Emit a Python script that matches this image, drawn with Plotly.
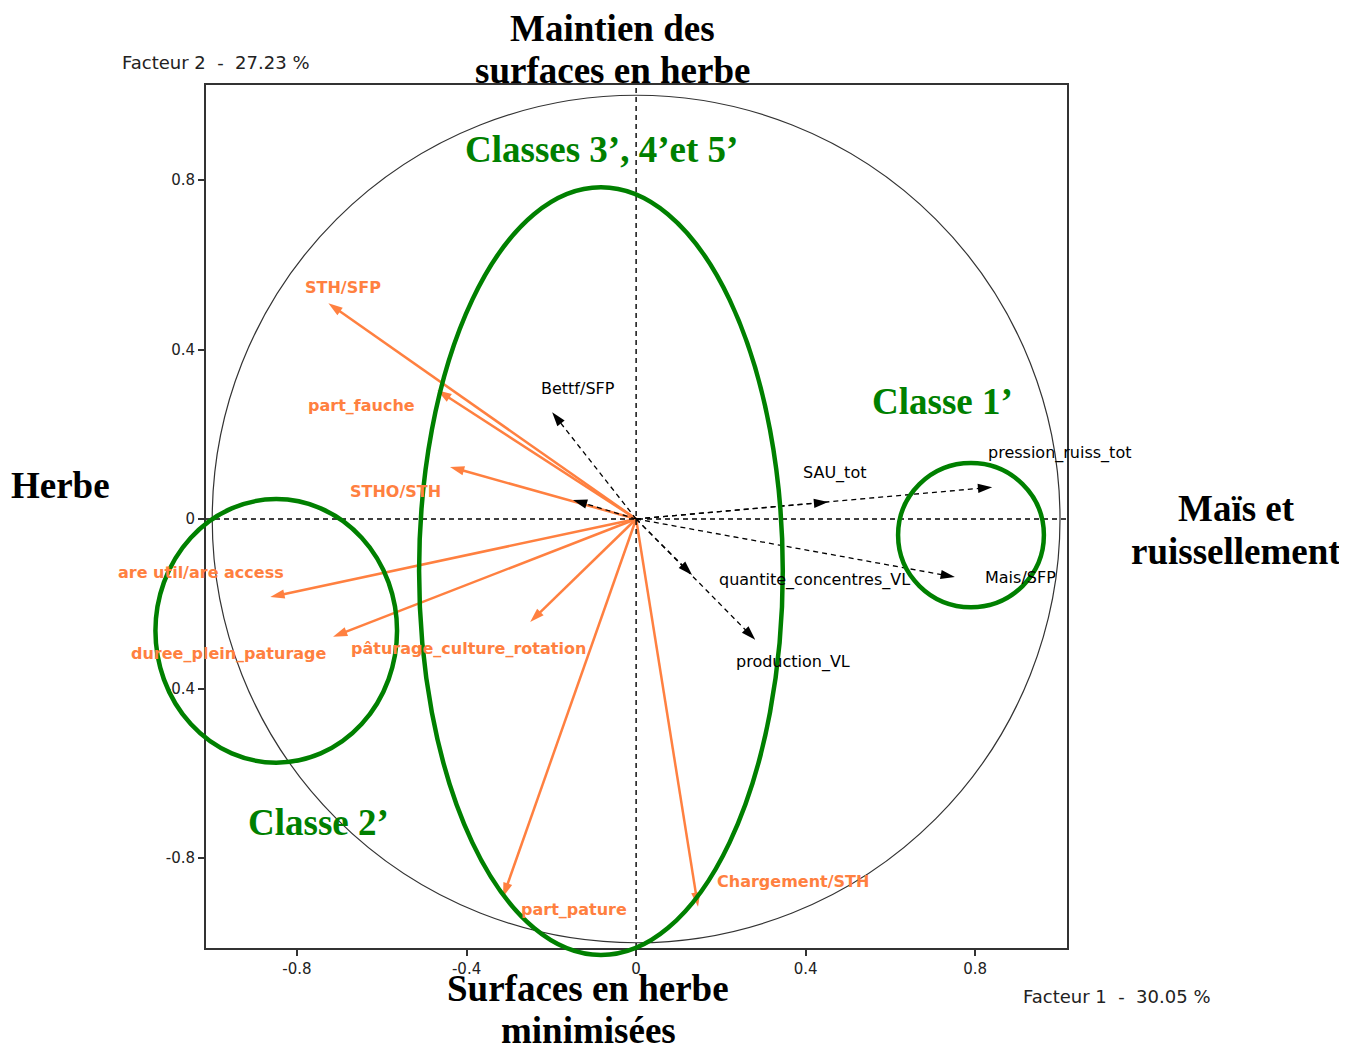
import plotly.graph_objects as go

# ---------------- data ----------------
active_vars = ["STH/SFP", "part_fauche", "STHO/STH", "are util/are access",
               "duree_plein_paturage", "pâturage_culture_rotation", "part_pature",
               "Chargement/STH"]
active_f1 = [-0.726, -0.469, -0.439, -0.863, -0.715, -0.250, -0.314, 0.146]
active_f2 = [0.509, 0.304, 0.123, -0.184, -0.278, -0.243, -0.892, -0.915]

sup_vars = ["Bettf/SFP", "", "SAU_tot", "pression_ruiss_tot", "Mais/SFP",
            "quantite_concentres_VL", "production_VL"]
sup_f1 = [-0.198, -0.149, 0.453, 0.840, 0.752, 0.132, 0.281]
sup_f2 = [0.252, 0.045, 0.040, 0.075, -0.137, -0.132, -0.285]

# label positions (data coords) for variable names
active_lab_x = [-0.691, -0.649, -0.568, -1.026, -0.960, -0.396, -0.146, 0.370]
active_lab_y = [0.547, 0.269, 0.066, -0.127, -0.318, -0.306, -0.922, -0.856]
sup_lab_x = [-0.137, None, 0.467, 0.999, 0.906, 0.422, 0.370]
sup_lab_y = [0.309, None, 0.109, 0.156, -0.139, -0.144, -0.337]

xticks = [-0.8, -0.4, 0, 0.4, 0.8]
yticks = [-0.8, -0.4, 0, 0.4, 0.8]
x_title = "Facteur 1  -  30.05 %"
y_title = "Facteur 2  -  27.23 %"

# class groupings (ellipses): center x, center y, radius x, radius y
groups = ["Classes 3’, 4’et 5’", "Classe 2’", "Classe 1’"]
group_cx = [-0.083, -0.849, 0.790]
group_cy = [-0.123, -0.264, -0.038]
group_rx = [0.429, 0.285, 0.172]
group_ry = [0.906, 0.311, 0.170]

ORANGE = "#FF8040"
GREEN = "#008000"

# ---------------- layout geometry (screen pixels) ----------------
W, H = 1347, 1046
OFF = 8  # page body margin
L, R, T, B = 206, 1067, 85, 948
XR = [-1.0147, 1.0165]
YR = [-1.0124, 1.0242]


def px_paper(px, py):
    return (px - L) / (R - L), (B - py) / (B - T)


def data_paper(x, y):
    return (x - XR[0]) / (XR[1] - XR[0]), (y - YR[0]) / (YR[1] - YR[0])


fig = go.Figure()

# active variables: solid orange arrows
for name, x, y in zip(active_vars, active_f1, active_f2):
    fig.add_trace(go.Scatter(
        x=[0, x], y=[0, y], mode="lines+markers",
        line=dict(color=ORANGE, width=2.5),
        marker=dict(symbol=["circle", "arrow"], size=[0, 15], color=ORANGE,
                    angleref="previous", opacity=[0, 1], line=dict(width=0)),
        hoverinfo="skip", showlegend=False))

# supplementary variables: dashed black arrows
for name, x, y in zip(sup_vars, sup_f1, sup_f2):
    fig.add_trace(go.Scatter(
        x=[0, x], y=[0, y], mode="lines+markers",
        line=dict(color="black", width=1.3, dash="5px,4px"),
        marker=dict(symbol=["circle", "arrow"], size=[0, 15], color="black",
                    angleref="previous", opacity=[0, 1], line=dict(width=0)),
        hoverinfo="skip", showlegend=False))

# correlation circle
fig.add_shape(type="circle", xref="x", yref="y", x0=-1, x1=1, y0=-1, y1=1,
              line=dict(color="#333333", width=1.2))

# dashed axes through origin
fig.add_shape(type="line", xref="paper", yref="y", x0=0, x1=1, y0=0, y1=0,
              line=dict(color="black", width=1.4, dash="5px,4px"))
fig.add_shape(type="line", xref="x", yref="paper", x0=0, x1=0, y0=0, y1=1,
              line=dict(color="black", width=1.4, dash="5px,4px"))

# group ellipses (paper refs so they can leave the plot frame)
for cx, cy, rx, ry in zip(group_cx, group_cy, group_rx, group_ry):
    x0, y0 = data_paper(cx - rx, cy - ry)
    x1, y1 = data_paper(cx + rx, cy + ry)
    fig.add_shape(type="circle", xref="paper", yref="paper",
                  x0=x0, x1=x1, y0=y0, y1=y1,
                  line=dict(color=GREEN, width=4.5))

annotations = []
# variable labels (paper refs so labels outside the frame stay visible)
for name, lx, ly in zip(active_vars, active_lab_x, active_lab_y):
    xp, yp = data_paper(lx, ly)
    annotations.append(dict(x=xp, y=yp, xref="paper", yref="paper", text=name,
                            showarrow=False, xanchor="center", yanchor="middle",
                            font=dict(family="DejaVu Sans", size=16, color=ORANGE,
                                      weight="bold")))
for name, lx, ly in zip(sup_vars, sup_lab_x, sup_lab_y):
    if not name:
        continue
    xp, yp = data_paper(lx, ly)
    annotations.append(dict(x=xp, y=yp, xref="paper", yref="paper", text=name,
                            showarrow=False, xanchor="center", yanchor="middle",
                            font=dict(family="DejaVu Sans", size=16, color="black")))

# axis titles
xp, yp = px_paper(1212, 996)
annotations.append(dict(x=xp, y=yp, xref="paper", yref="paper",
                        text=x_title.replace(" ", "\u00a0"), showarrow=False,
                        xanchor="right", yanchor="middle",
                        font=dict(family="DejaVu Sans", size=18, color="#222222")))
xp, yp = px_paper(120, 63)
annotations.append(dict(x=xp, y=yp, xref="paper", yref="paper",
                        text=y_title.replace(" ", "\u00a0"), showarrow=False,
                        xanchor="left", yanchor="middle",
                        font=dict(family="DejaVu Sans", size=18, color="#222222")))

# group labels (green)
group_lab_px = [(601, 149), (318, 822), (942, 401)]
for g, (px, py) in zip(groups, group_lab_px):
    xp, yp = px_paper(px, py)
    annotations.append(dict(x=xp, y=yp, xref="paper", yref="paper", text=g,
                            showarrow=False, xanchor="center", yanchor="middle",
                            font=dict(family="Liberation Serif", size=37,
                                      color=GREEN, weight="bold")))

# interpretation labels (black, bold serif)
interp = [("Maintien des", 612, 28), ("surfaces en herbe", 612, 71),
          ("Herbe", 60, 485),
          ("Maïs et", 1236, 508), ("ruissellement", 1236, 551),
          ("Surfaces en herbe", 588, 989), ("minimisées", 588, 1030)]
for txt, px, py in interp:
    xp, yp = px_paper(px, py)
    annotations.append(dict(x=xp, y=yp, xref="paper", yref="paper", text=txt,
                            showarrow=False, xanchor="center", yanchor="middle",
                            font=dict(family="Liberation Serif", size=37,
                                      color="black", weight="bold")))

fig.update_layout(
    width=W, height=H, autosize=False,
    margin=dict(l=L - OFF, r=W - (R - OFF), t=T - OFF, b=H - (B - OFF), pad=0),
    paper_bgcolor="white", plot_bgcolor="white",
    annotations=annotations,
    showlegend=False,
    xaxis=dict(range=XR, tickvals=xticks, ticktext=[f"{v:g}" for v in xticks],
               showgrid=False, zeroline=False, showline=True, mirror=True,
               linecolor="#333333", linewidth=2, ticks="outside", ticklen=6,
               tickcolor="#333333", tickwidth=1.5,
               tickfont=dict(family="DejaVu Sans", size=15, color="#222222")),
    yaxis=dict(range=YR, tickvals=yticks, ticktext=[f"{v:g}" for v in yticks],
               showgrid=False, zeroline=False, showline=True, mirror=True,
               linecolor="#333333", linewidth=2, ticks="outside", ticklen=6,
               tickcolor="#333333", tickwidth=1.5,
               tickfont=dict(family="DejaVu Sans", size=15, color="#222222")),
)

fig.write_html("out.html")
